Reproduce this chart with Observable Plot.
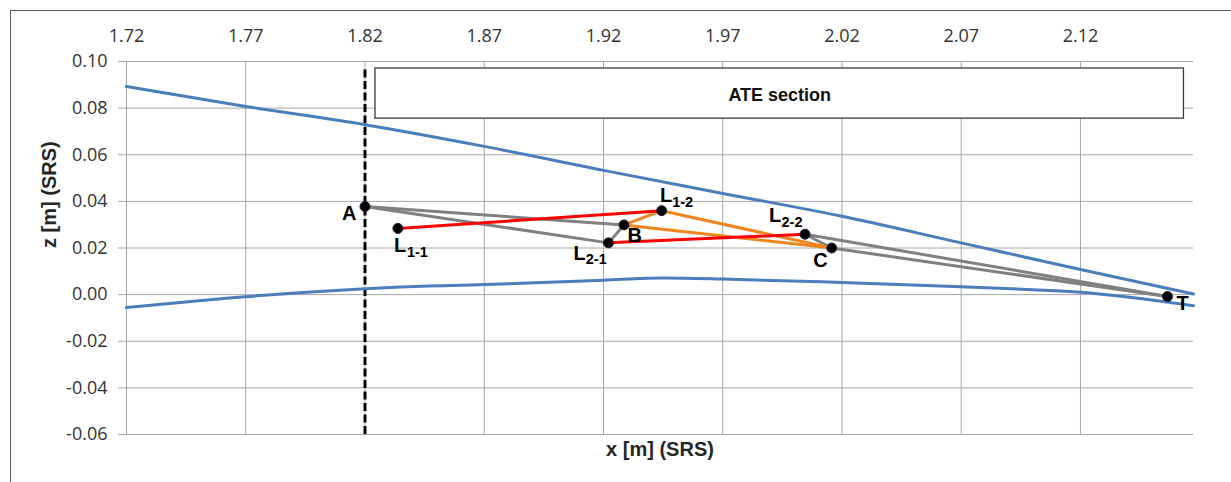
<!DOCTYPE html>
<html>
<head>
<meta charset="utf-8">
<script src="https://cdn.jsdelivr.net/npm/d3@7"></script>
<script src="https://cdn.jsdelivr.net/npm/@observablehq/plot@0.6"></script>
<style>
  html, body { margin: 0; padding: 0; background: #fff; overflow: hidden; }
  #wrap { position: relative; width: 1231px; height: 482px; }
  #frame {
    position: absolute; left: 10px; top: 10px; width: 1240px; height: 490px;
    border: 1.5px solid #5b5b5b; box-sizing: border-box; pointer-events: none;
  }
</style>
</head>
<body>
<div id="wrap"><div id="chart"></div><div id="frame"></div></div>
<script>
// Axis ticks
const xTicks = [1.72, 1.77, 1.82, 1.87, 1.92, 1.97, 2.02, 2.07, 2.12];
const zTicks = [-0.06, -0.04, -0.02, 0.00, 0.02, 0.04, 0.06, 0.08, 0.10];
const xDomain = [1.72, 2.1674];
const zDomain = [-0.06, 0.10];

// Profile contour: upper (suction) side
const upperX = [1.72, 1.77, 1.82, 1.87, 1.92, 1.97, 2.02, 2.07, 2.12, 2.1674];
const upperZ = [0.0893, 0.0807, 0.0729, 0.0636, 0.0533, 0.0434, 0.0336, 0.0222, 0.0108, 0.0003];

// Profile contour: lower (pressure) side
const lowerX = [1.72, 1.77, 1.82, 1.835, 1.87, 1.92, 1.945, 1.97, 2.02, 2.07, 2.10, 2.12, 2.1674];
const lowerZ = [-0.0055, -0.0009, 0.0025, 0.0033, 0.0043, 0.0062, 0.0071, 0.0067, 0.0052, 0.0034, 0.0021, 0.0010, -0.0048];

// Characteristic points of the ATE section
const pointNames = ["A", "L1-1", "L1-2", "B", "L2-1", "L2-2", "C", "T"];
const pointX = [1.8200, 1.8338, 1.9444, 1.9286, 1.9221, 2.0045, 2.0157, 2.1565];
const pointZ = [0.0378, 0.0284, 0.0360, 0.0299, 0.0222, 0.0259, 0.0200, -0.0008];

// Connections between points
const grayLinks = [["A", "B"], ["A", "L2-1"], ["B", "L2-1"], ["L2-2", "C"], ["L2-2", "T"], ["C", "T"]];
const orangeLinks = [["L1-2", "B"], ["L1-2", "C"], ["B", "C"]];
const redLinks = [["L1-1", "L1-2"], ["L2-1", "L2-2"]];

// ATE section boundary and its caption box
const sectionX = 1.82;
const sectionBox = {x1: 1.8244, x2: 2.1634, z1: 0.0755, z2: 0.0970};
const sectionLabel = "ATE section";

const xTitle = "x [m] (SRS)";
const zTitle = "z [m] (SRS)";

// ---------------------------------------------------------------
const byName = new Map(pointNames.map((n, i) => [n, {name: n, x: pointX[i], z: pointZ[i]}]));
const points = pointNames.map(n => byName.get(n));
const segs = pairs => pairs.map(([a, b]) => {
  const p = byName.get(a), q = byName.get(b);
  return {x1: p.x, z1: p.z, x2: q.x, z2: q.z};
});
const upper = upperX.map((x, i) => ({x, z: upperZ[i]}));
const lower = lowerX.map((x, i) => ({x, z: lowerZ[i]}));

const labelFont = "'Liberation Sans', Arial, sans-serif";
const fmt = d => d.toFixed(2);

// label placement relative to each point (pixels)
const labelPlace = {
  "A":    {anchor: "end",    dx: -8.5, dy: 13.3},
  "L1-1": {anchor: "start",  dx: -4,   dy: 24,   sdx: 9,     sdy: 28.5},
  "L1-2": {anchor: "start",  dx: -1.7, dy: -8.3, sdx: 10.5,  sdy: -3.5},
  "B":    {anchor: "start",  dx: 3.4,  dy: 17.4},
  "L2-1": {anchor: "start",  dx: -35,  dy: 17,   sdx: -22.7, sdy: 21.5},
  "L2-2": {anchor: "start",  dx: -36,  dy: -12,  sdx: -23.5, sdy: -7},
  "C":    {anchor: "middle", dx: -11.3, dy: 19.4},
  "T":    {anchor: "start",  dx: 9,    dy: 13.8}
};

const labelMarks = points.flatMap(p => {
  const o = labelPlace[p.name];
  const marks = [
    Plot.text([p], {
      x: "x", y: "z", text: d => d.name[0],
      textAnchor: o.anchor, lineAnchor: "bottom", dx: o.dx, dy: o.dy,
      fontFamily: labelFont, fontWeight: "bold", fontSize: 20, fill: "#000"
    })
  ];
  if (p.name.length > 1) {
    marks.push(Plot.text([p], {
      x: "x", y: "z", text: d => d.name.slice(1),
      textAnchor: "start", lineAnchor: "bottom", dx: o.sdx, dy: o.sdy,
      fontFamily: labelFont, fontWeight: "bold", fontSize: 14.5, fill: "#000"
    }));
  }
  return marks;
});

const chart = Plot.plot({
  width: 1231,
  height: 482,
  marginLeft: 126,
  marginRight: 38,
  marginTop: 61,
  marginBottom: 48,
  x: {domain: xDomain},
  y: {domain: zDomain},
  style: {fontFamily: "'Open Sans', sans-serif", background: "transparent", overflow: "visible"},
  marks: [
    Plot.gridX(xTicks, {stroke: "#a6a6a6", strokeOpacity: 1, strokeWidth: 1}),
    Plot.gridY(zTicks, {stroke: "#a6a6a6", strokeOpacity: 1, strokeWidth: 1}),
    Plot.axisX(xTicks, {
      anchor: "top", tickSize: 0, tickPadding: 20, tickFormat: fmt,
      fontSize: 18, fill: "#333", label: null
    }),
    Plot.axisY(zTicks, {
      anchor: "left", tickSize: 8, tickPadding: 11, tickFormat: fmt,
      stroke: "#a6a6a6", fontSize: 18, fill: "#333", label: null
    }),
    Plot.ruleX([sectionX], {
      y1: zDomain[0], y2: sectionBox.z2,
      stroke: "#000", strokeWidth: 3, strokeDasharray: "8,3.5"
    }),
    Plot.line(upper, {x: "x", y: "z", stroke: "#4a7ebb", strokeWidth: 3, curve: "monotone-x"}),
    Plot.line(lower, {x: "x", y: "z", stroke: "#4a7ebb", strokeWidth: 3, curve: "monotone-x"}),
    Plot.rect([sectionBox], {
      x1: "x1", x2: "x2", y1: "z1", y2: "z2",
      fill: "white", stroke: "#3a3a3a", strokeWidth: 1.3
    }),
    Plot.text([sectionBox], {
      x: d => (d.x1 + d.x2) / 2, y: d => (d.z1 + d.z2) / 2, text: () => sectionLabel,
      dy: 2, fontFamily: labelFont, fontWeight: "bold", fontSize: 18, fill: "#111"
    }),
    Plot.link(segs(grayLinks), {x1: "x1", y1: "z1", x2: "x2", y2: "z2", stroke: "#808080", strokeWidth: 3}),
    Plot.link(segs(orangeLinks), {x1: "x1", y1: "z1", x2: "x2", y2: "z2", stroke: "#f0851e", strokeWidth: 3}),
    Plot.link(segs(redLinks), {x1: "x1", y1: "z1", x2: "x2", y2: "z2", stroke: "#ff0000", strokeWidth: 3}),
    Plot.dot(points, {x: "x", y: "z", r: 5, fill: "#000", stroke: "#2b1d45", strokeWidth: 1}),
    ...labelMarks,
    Plot.text([xTitle], {
      text: d => d, frameAnchor: "bottom", lineAnchor: "bottom", dy: 21.5,
      fontFamily: labelFont, fontWeight: "bold", fontSize: 20, fill: "#262626"
    }),
    Plot.text([zTitle], {
      text: d => d, frameAnchor: "left", lineAnchor: "bottom", rotate: -90, dx: -71,
      fontFamily: labelFont, fontWeight: "bold", fontSize: 20, fill: "#262626"
    })
  ]
});

document.getElementById("chart").appendChild(chart);
</script>
</body>
</html>
